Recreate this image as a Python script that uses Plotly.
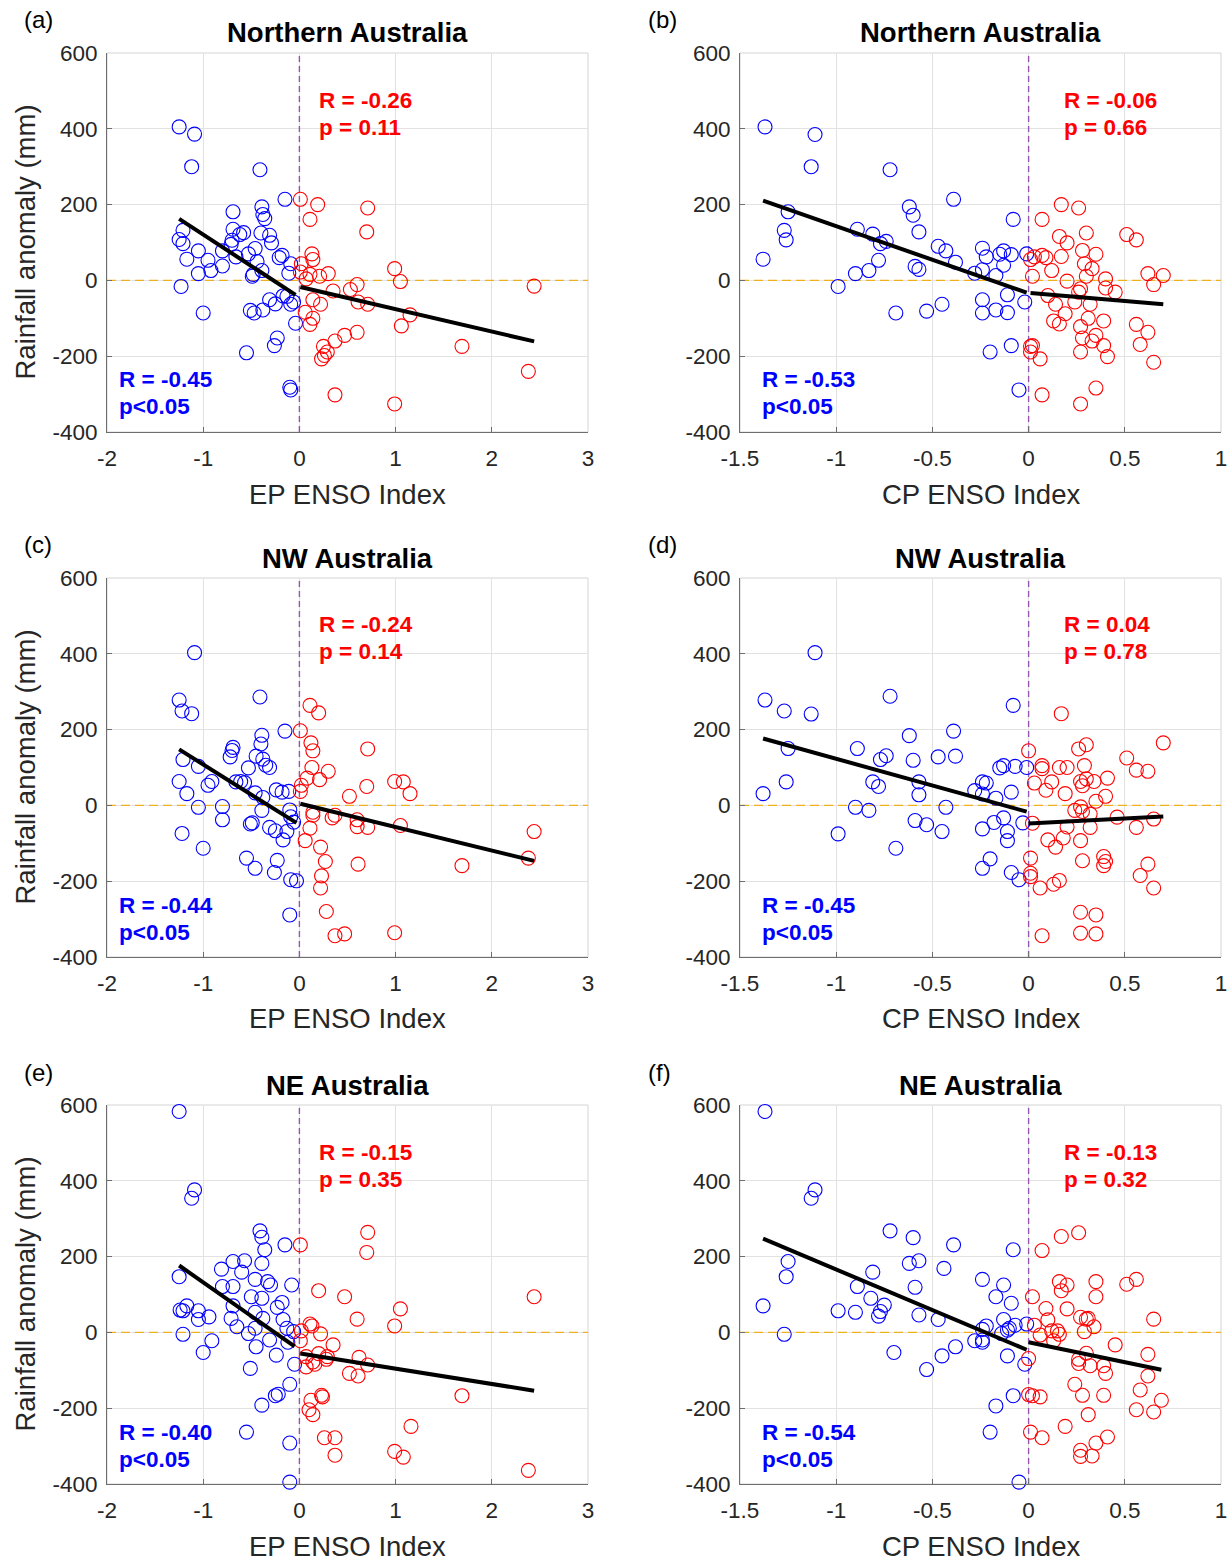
import numpy as np
import plotly.graph_objects as go

W, H = 1231, 1562

# ---------------- data ----------------
# Panel (a): EP ENSO index vs Northern Australia rainfall anomaly
a_blue_x = [-1.25,-1.09,-1.12,-0.41,-0.15,-0.69,-0.39,-0.38,-0.36,-1.21,-1.25,-1.21,-0.69,-0.58,-0.62,-0.40,-0.31,-0.29,-0.70,-0.71,-0.80,-1.05,-1.17,-0.95,-0.92,-0.80,-1.05,-0.66,-0.53,-0.46,-0.44,-0.39,-0.48,-0.49,-0.21,-0.18,-0.09,-0.11,-1.23,-1.00,-0.51,-0.47,-0.38,-0.31,-0.25,-0.17,-0.13,-0.09,-0.06,-0.04,-0.23,-0.26,-0.55,-0.10,-0.09]
a_blue_y = [405,386,300,292,214,181,194,174,163,132,108,97,135,126,121,125,119,99,106,95,78,78,56,53,26,38,18,62,70,84,50,26,16,11,60,66,44,19,-16,-86,-79,-86,-78,-51,-62,-41,-42,-63,-57,-113,-152,-172,-191,-282,-289]
a_red_x = [0.01,0.19,0.11,0.71,0.70,0.13,0.14,0.02,0.01,0.11,0.07,0.21,0.30,0.99,1.05,0.35,0.53,0.60,0.14,0.22,0.06,0.14,0.11,0.61,0.71,1.15,1.06,0.60,0.47,0.37,0.25,0.29,0.23,0.26,1.69,2.44,2.38,0.37,0.99]
a_red_y = [214,200,161,191,128,70,55,44,22,16,4,11,18,31,-3,-28,-24,-11,-51,-63,-84,-100,-116,-57,-63,-91,-120,-137,-145,-160,-174,-189,-207,-198,-174,-15,-240,-302,-326]
a_blue_fit = (-166, -45)   # slope, intercept
a_red_fit = (-59, -17)

# Panel (b): CP ENSO index vs Northern Australia
b_blue_x = [-1.37,-1.11,-1.13,-0.72,-0.39,-0.08,-0.62,-0.60,-1.25,-1.27,-1.26,-1.38,-0.89,-0.81,-0.77,-0.74,-0.57,-0.78,-0.83,-0.90,-0.59,-0.57,-0.47,-0.43,-0.38,-0.24,-0.22,-0.15,-0.13,-0.09,-0.13,-0.24,-0.28,-0.17,-0.01,-0.99,-0.11,-0.02,-0.24,-0.45,-0.24,-0.17,-0.11,-0.53,-0.69,-0.09,-0.20,-0.05]
b_blue_y = [405,385,300,292,214,161,194,172,181,132,107,56,135,122,97,103,128,53,26,18,37,29,90,78,48,85,62,69,78,68,40,28,19,13,70,-16,-38,-57,-51,-63,-86,-78,-85,-81,-86,-172,-189,-289]
b_red_x = [0.17,0.26,0.07,0.16,0.20,0.30,0.51,0.56,0.01,0.03,0.07,0.09,0.17,0.28,0.35,0.29,0.33,0.12,0.02,0.30,0.20,0.40,0.40,0.45,0.62,0.70,0.65,0.27,0.26,0.10,0.14,0.24,0.32,0.19,0.13,0.16,0.31,0.39,0.27,0.28,0.33,0.35,0.39,0.41,0.27,0.56,0.62,0.58,0.65,0.01,0.02,0.01,0.06,0.07,0.35,0.27]
b_red_y = [200,191,161,116,99,125,121,107,55,62,66,60,63,79,69,44,31,26,11,11,-2,4,-20,-31,18,13,-11,-22,-31,-40,-63,-57,-63,-88,-107,-115,-100,-107,-122,-152,-160,-145,-172,-201,-189,-116,-137,-169,-216,-174,-172,-189,-207,-302,-284,-326]
b_blue_fit = (-177, -34)
b_red_fit = (-43, -33)

# Panel (c): EP ENSO index vs NW Australia
c_blue_x = [-1.09,-1.25,-1.22,-1.12,-0.41,-0.15,-0.39,-0.40,-0.69,-0.70,-0.72,-0.45,-0.38,-0.35,-0.31,-0.53,-1.21,-1.05,-0.91,-0.95,-1.25,-1.17,-0.66,-0.61,-0.57,-0.46,-0.38,-0.24,-0.18,-0.11,-0.39,-1.05,-0.80,-0.80,-0.51,-0.49,-0.31,-0.25,-0.17,-0.13,-0.10,-0.09,-0.06,-1.22,-1.00,-0.55,-0.46,-0.23,-0.26,-0.09,-0.03,-0.10]
c_blue_y = [403,278,249,242,286,196,185,162,153,145,128,130,122,106,100,99,121,103,63,53,63,31,62,63,60,33,21,41,35,37,-13,-5,-3,-38,-49,-46,-58,-67,-91,-69,-12,-30,-44,-74,-113,-139,-166,-145,-177,-196,-199,-289]
c_red_x = [0.11,0.20,0.01,0.12,0.14,0.71,0.13,0.30,0.08,0.21,0.02,0.01,0.70,0.99,1.08,1.15,0.52,0.14,0.14,0.34,0.37,0.60,0.60,0.71,1.05,0.11,0.06,0.22,0.27,0.61,0.23,0.22,1.69,2.44,2.38,0.28,0.37,0.47,0.99]
c_red_y = [264,244,197,165,144,149,100,90,72,68,53,37,50,63,62,31,24,-18,-26,-33,-26,-38,-56,-58,-53,-60,-93,-110,-148,-155,-186,-218,-159,-69,-139,-280,-344,-339,-336]
c_blue_fit = (-159, -51)
c_red_fit = (-62, 5)

# Panel (d): CP ENSO index vs NW Australia
d_blue_x = [-1.11,-1.37,-1.27,-1.13,-0.72,-0.08,-0.39,-0.62,-1.25,-0.89,-0.74,-0.77,-0.60,-0.47,-0.38,-1.26,-1.38,-0.81,-0.78,-0.57,-0.57,-0.90,-0.83,-0.43,-0.99,-0.69,-0.59,-0.53,-0.45,-0.28,-0.24,-0.22,-0.24,-0.17,-0.15,-0.13,-0.07,-0.01,-0.09,-0.24,-0.18,-0.13,-0.11,-0.11,-0.03,-0.24,-0.20,-0.09,-0.05]
d_blue_y = [403,278,249,241,288,264,196,184,150,150,131,121,119,128,130,62,31,62,50,62,28,-5,-13,-5,-75,-113,-40,-51,-69,39,62,59,30,19,99,105,103,100,35,-62,-45,-33,-69,-93,-46,-166,-141,-177,-196]
d_red_x = [0.17,0.00,0.26,0.30,0.70,0.51,0.56,0.62,0.07,0.07,0.16,0.20,0.29,0.03,0.12,0.09,0.27,0.30,0.28,0.34,0.41,0.40,0.35,0.19,0.24,0.27,0.28,0.32,0.46,0.65,0.56,0.32,0.20,0.18,0.10,0.14,0.27,0.02,0.01,0.01,0.01,0.28,0.39,0.40,0.39,0.62,0.58,0.65,0.13,0.16,0.06,0.27,0.35,0.07,0.27,0.35]
d_red_y = [242,144,149,160,165,125,93,90,105,97,100,100,105,59,62,40,63,70,52,63,72,24,11,31,-13,-4,-16,-23,-31,-36,-58,-58,-57,-86,-91,-110,-93,-47,-139,-179,-188,-146,-135,-148,-159,-155,-185,-218,-208,-198,-218,-282,-289,-344,-337,-339]
d_blue_fit = (-141, -18)
d_red_fit = (27, -48)

# Panel (e): EP ENSO index vs NE Australia
e_blue_x = [-1.25,-1.09,-1.12,-0.41,-0.39,-0.36,-0.15,-0.69,-0.57,-0.81,-0.60,-0.39,-0.46,-0.33,-0.30,-0.08,-0.80,-0.69,-1.25,-0.50,-0.39,-0.18,-0.23,-0.69,-0.46,-0.38,-0.71,-0.65,-0.17,-0.13,-0.53,-0.46,-0.06,-1.17,-1.21,-1.24,-1.05,-1.05,-0.94,-1.21,-0.91,-1.00,-0.31,-0.45,-0.24,-0.12,-0.05,-0.51,-0.10,-0.25,-0.22,-0.39,-0.55,-0.10,-0.10]
e_blue_y = [583,376,354,268,251,218,231,187,189,167,159,182,140,134,125,125,121,121,147,94,90,79,66,70,53,37,37,15,34,11,-3,11,2,70,57,59,57,34,41,-5,-22,-53,-20,-38,-60,-26,-84,-95,-137,-167,-163,-192,-263,-292,-395]
e_red_x = [0.01,0.71,0.70,0.20,0.47,1.05,0.60,0.99,0.11,0.13,0.02,0.22,0.01,0.35,0.20,0.29,0.28,0.07,0.14,0.07,0.16,0.62,0.71,0.52,0.61,0.23,0.24,0.12,0.10,0.14,1.16,1.69,2.44,2.38,0.26,0.37,0.37,0.99,1.08]
e_red_y = [231,264,211,110,94,62,35,17,22,17,4,-4,-22,-33,-56,-64,-71,-64,-78,-91,-84,-66,-86,-108,-115,-166,-170,-179,-204,-217,-248,-167,94,-364,-278,-278,-324,-314,-329]
e_blue_fit = (-178, -46)
e_red_fit = (-40.5, -55)

# Panel (f): CP ENSO index vs NE Australia
f_blue_x = [-1.37,-1.11,-1.13,-0.72,-0.60,-0.39,-0.08,-0.62,-0.57,-0.44,-0.81,-1.25,-1.26,-0.89,-0.59,-0.24,-0.13,-0.17,-0.09,-0.82,-0.75,-0.77,-0.78,-0.99,-0.90,-0.57,-0.47,-1.38,-1.27,-0.70,-0.45,-0.38,-0.53,-0.28,-0.24,-0.24,-0.24,-0.22,-0.14,-0.13,-0.11,-0.07,-0.10,-0.01,-0.11,-0.02,-0.08,-0.17,-0.20,-0.05]
f_blue_y = [583,376,354,268,250,231,218,182,189,169,159,187,147,121,119,140,125,94,77,90,72,55,43,57,53,46,34,70,-5,-53,-62,-38,-98,-22,-20,-26,8,17,-3,34,6,19,11,22,-62,-84,-167,-194,-263,-395]
f_red_x = [0.26,0.17,0.07,0.16,0.20,0.17,0.35,0.35,0.51,0.56,0.65,0.02,0.09,0.10,0.20,0.27,0.30,0.31,0.34,0.29,0.12,0.15,0.16,0.06,0.03,0.13,0.45,0.62,0.30,0.26,0.26,0.32,0.39,0.40,0.62,0.00,0.24,0.28,0.39,0.58,0.69,0.56,0.65,0.31,0.00,0.02,0.06,0.01,0.07,0.19,0.41,0.35,0.27,0.27,0.33]
f_red_y = [263,253,216,134,125,110,134,94,127,140,35,94,63,33,62,40,35,37,15,2,4,4,-5,-7,19,-22,-33,-58,-55,-71,-82,-88,-88,-108,-115,-69,-137,-166,-166,-152,-179,-204,-210,-217,-164,-167,-170,-263,-278,-248,-276,-292,-311,-327,-326]
f_blue_fit = (-214, -48)
f_red_fit = (-105, -26)

# stats text
stats_red = [("R = -0.26", "p = 0.11"), ("R = -0.06", "p = 0.66"),
             ("R = -0.24", "p = 0.14"), ("R = 0.04", "p = 0.78"),
             ("R = -0.15", "p = 0.35"), ("R = -0.13", "p = 0.32")]
stats_blue = [("R = -0.45", "p<0.05"), ("R = -0.53", "p<0.05"),
              ("R = -0.44", "p<0.05"), ("R = -0.45", "p<0.05"),
              ("R = -0.40", "p<0.05"), ("R = -0.54", "p<0.05")]
panel_labels = ["(a)", "(b)", "(c)", "(d)", "(e)", "(f)"]
titles = ["Northern Australia", "Northern Australia", "NW Australia",
          "NW Australia", "NE Australia", "NE Australia"]
xtitles = ["EP ENSO Index", "CP ENSO Index"] * 3
y_title = "Rainfall anomaly (mm)"

EP_TICKS = [-2, -1, 0, 1, 2, 3]
EP_TICKTEXT = ["-2", "-1", "0", "1", "2", "3"]
CP_TICKS = [-1.5, -1, -0.5, 0, 0.5, 1]
CP_TICKTEXT = ["-1.5", "-1", "-0.5", "0", "0.5", "1"]
Y_TICKS = [-400, -200, 0, 200, 400, 600]
Y_TICKTEXT = ["-400", "-200", "0", "200", "400", "600"]
EP_RANGE = [-2, 3]
CP_RANGE = [-1.5, 1]
Y_RANGE = [-400, 600]

blues_x = [a_blue_x, b_blue_x, c_blue_x, d_blue_x, e_blue_x, f_blue_x]
blues_y = [a_blue_y, b_blue_y, c_blue_y, d_blue_y, e_blue_y, f_blue_y]
reds_x = [a_red_x, b_red_x, c_red_x, d_red_x, e_red_x, f_red_x]
reds_y = [a_red_y, b_red_y, c_red_y, d_red_y, e_red_y, f_red_y]
blue_fits = [a_blue_fit, b_blue_fit, c_blue_fit, d_blue_fit, e_blue_fit, f_blue_fit]
red_fits = [a_red_fit, b_red_fit, c_red_fit, d_red_fit, e_red_fit, f_red_fit]

# ---------------- layout geometry (pixels) ----------------
cols_px = [(107, 588), (740, 1221)]
rows_px = [(53, 432), (578, 957), (1105, 1484)]

FONT = "Liberation Sans, Arial, Helvetica, sans-serif"
BLUE = "#0000ff"
RED = "#ff0000"
AXCOL = "#6e6e6e"
GRIDCOL = "#e2e2e2"
TXT = "#262626"
PURPLE = "#9556b0"
ORANGE = "#EDB120"


def px(xp):
    return xp / W


def py(yp):
    return 1 - yp / H


fig = go.Figure()
layout = dict(width=W, height=H, margin=dict(l=0, r=0, t=0, b=0, pad=0, autoexpand=False),
              paper_bgcolor="white", plot_bgcolor="white", showlegend=False,
              font=dict(family=FONT, color=TXT))
annotations = []
shapes = []

for i in range(6):
    r, c = divmod(i, 2)
    k = i + 1
    xs = "" if k == 1 else str(k)
    xa, ya = "x" + xs, "y" + xs
    x0p, x1p = cols_px[c]
    y0p, y1p = rows_px[r]
    is_ep = (c == 0)
    xr = EP_RANGE if is_ep else CP_RANGE

    layout["xaxis" + xs] = dict(
        domain=[px(x0p), px(x1p)], range=xr, anchor=ya, automargin=False,
        tickvals=EP_TICKS if is_ep else CP_TICKS,
        ticktext=EP_TICKTEXT if is_ep else CP_TICKTEXT,
        showgrid=True, gridcolor=GRIDCOL, gridwidth=1, zeroline=False,
        showline=True, linecolor=AXCOL, linewidth=1, mirror=False,
        ticks="inside", ticklen=5, tickcolor=AXCOL,
        tickfont=dict(size=22.5, color=TXT, family=FONT),
        ticklabelstandoff=6, fixedrange=True)
    layout["yaxis" + xs] = dict(
        domain=[py(y1p), py(y0p)], range=Y_RANGE, anchor=xa, automargin=False,
        tickvals=Y_TICKS, ticktext=Y_TICKTEXT,
        showgrid=True, gridcolor=GRIDCOL, gridwidth=1, zeroline=False,
        showline=True, linecolor=AXCOL, linewidth=1, mirror=False,
        ticks="inside", ticklen=5, tickcolor=AXCOL,
        tickfont=dict(size=22.5, color=TXT, family=FONT),
        ticklabelstandoff=4, fixedrange=True)

    # light box (top/right)
    shapes.append(dict(type="rect", xref=xa + " domain", yref=ya + " domain",
                       x0=0, x1=1, y0=0, y1=1, line=dict(color="#d4d4d4", width=1),
                       layer="below"))

    # reference dashed lines
    fig.add_trace(go.Scatter(x=xr, y=[0, 0], mode="lines", xaxis=xa, yaxis=ya,
                             line=dict(color=ORANGE, width=1.3, dash="9px,5px"),
                             hoverinfo="skip"))
    fig.add_trace(go.Scatter(x=[0, 0], y=Y_RANGE, mode="lines", xaxis=xa, yaxis=ya,
                             line=dict(color=PURPLE, width=1.4, dash="6px,4px"),
                             hoverinfo="skip"))

    # points
    fig.add_trace(go.Scatter(x=blues_x[i], y=blues_y[i], mode="markers",
                             xaxis=xa, yaxis=ya, cliponaxis=False,
                             marker=dict(symbol="circle-open", size=14,
                                         color=BLUE, line=dict(width=1.1, color=BLUE))))
    fig.add_trace(go.Scatter(x=reds_x[i], y=reds_y[i], mode="markers",
                             xaxis=xa, yaxis=ya, cliponaxis=False,
                             marker=dict(symbol="circle-open", size=14,
                                         color=RED, line=dict(width=1.1, color=RED))))

    # fit lines over the range of each group
    for gx, (slope, icpt) in ((blues_x[i], blue_fits[i]), (reds_x[i], red_fits[i])):
        lx = np.array([min(gx), max(gx)])
        fig.add_trace(go.Scatter(x=lx, y=slope * lx + icpt, mode="lines",
                                 xaxis=xa, yaxis=ya,
                                 line=dict(color="black", width=4)))

    # stats text
    rx_dom = (317 - 107) / 481 if is_ep else (1062 - 740) / 481
    bx_dom = (117 - 107) / 481 if is_ep else (760 - 740) / 481
    for txt, yd in ((stats_red[i][0], 1 - 47 / 379), (stats_red[i][1], 1 - 74 / 379)):
        annotations.append(dict(text="<b>%s</b>" % txt, xref=xa + " domain", yref=ya + " domain",
                                x=rx_dom, y=yd, xanchor="left", yanchor="middle",
                                showarrow=False, font=dict(size=22.5, color=RED, family=FONT)))
    for txt, yd in ((stats_blue[i][0], 1 - 327 / 379), (stats_blue[i][1], 1 - 354 / 379)):
        annotations.append(dict(text="<b>%s</b>" % txt, xref=xa + " domain", yref=ya + " domain",
                                x=bx_dom, y=yd, xanchor="left", yanchor="middle",
                                showarrow=False, font=dict(size=22.5, color=BLUE, family=FONT)))

    xc = (x0p + x1p) / 2
    # panel label
    annotations.append(dict(text=panel_labels[i], xref="paper", yref="paper",
                            x=px(22 if c == 0 else 646), y=py(y0p - 33),
                            xanchor="left", yanchor="middle", showarrow=False,
                            font=dict(size=24, color="black", family=FONT)))
    # title
    annotations.append(dict(text="<b>%s</b>" % titles[i], xref="paper", yref="paper",
                            x=px(xc), y=py(y0p - 20), xanchor="center", yanchor="middle",
                            showarrow=False, font=dict(size=27.5, color="black", family=FONT)))
    # x-axis title
    annotations.append(dict(text=xtitles[i], xref="paper", yref="paper",
                            x=px(xc), y=py(y1p + 62), xanchor="center", yanchor="middle",
                            showarrow=False, font=dict(size=27.5, color=TXT, family=FONT)))
    # y-axis title (left column only)
    if c == 0:
        annotations.append(dict(text=y_title, xref="paper", yref="paper",
                                x=px(25), y=py((y0p + y1p) / 2), xanchor="center",
                                yanchor="middle", textangle=-90, showarrow=False,
                                font=dict(size=27.5, color=TXT, family=FONT)))

layout["annotations"] = annotations
layout["shapes"] = shapes
fig.update_layout(**layout)

fig.write_html("out.html", config={"displayModeBar": False},
               post_script="document.body.style.margin='0';document.body.style.overflow='hidden';")
